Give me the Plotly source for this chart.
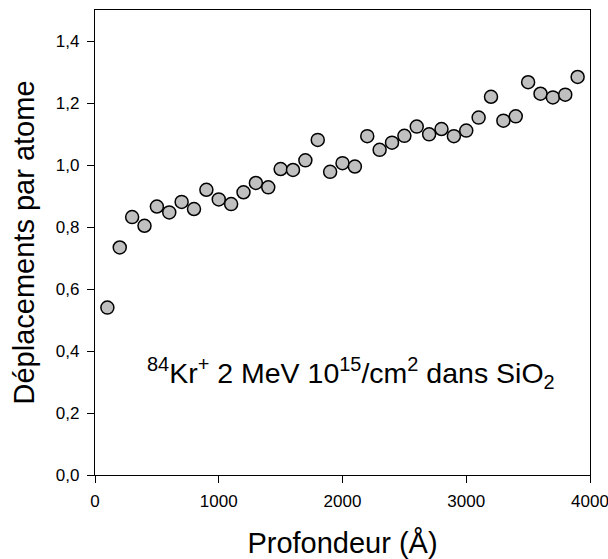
import plotly.graph_objects as go

depth = [100, 200, 300, 400, 500, 600, 700, 800, 900, 1000,
         1100, 1200, 1300, 1400, 1500, 1600, 1700, 1800, 1900, 2000,
         2100, 2200, 2300, 2400, 2500, 2600, 2700, 2800, 2900, 3000,
         3100, 3200, 3300, 3400, 3500, 3600, 3700, 3800, 3900]
dpa = [0.540, 0.734, 0.832, 0.804, 0.866, 0.847, 0.881, 0.858, 0.920, 0.889,
       0.874, 0.912, 0.942, 0.928, 0.987, 0.984, 1.015, 1.081, 0.978, 1.006,
       0.995, 1.093, 1.049, 1.072, 1.094, 1.124, 1.099, 1.116, 1.093, 1.111,
       1.153, 1.220, 1.143, 1.157, 1.267, 1.230, 1.218, 1.227, 1.284]

x_ticks = [0, 1000, 2000, 3000, 4000]
x_ticklabels = ["0", "1000", "2000", "3000", "4000"]
y_ticks = [0.0, 0.2, 0.4, 0.6, 0.8, 1.0, 1.2, 1.4]
y_ticklabels = ["0,0", "0,2", "0,4", "0,6", "0,8", "1,0", "1,2", "1,4"]

x_title = "Profondeur (Å)"
y_title = "Déplacements par atome"
label_text = "<sup>84</sup>Kr<sup>+</sup> 2 MeV 10<sup>15</sup>/cm<sup>2</sup> dans SiO<sub>2</sub>"

FONT = "Liberation Sans, Arial, sans-serif"

fig = go.Figure()
fig.add_trace(go.Scatter(
    x=depth, y=dpa, mode="markers",
    marker=dict(size=13, color="#c0c0c0", line=dict(color="black", width=1.5)),
    showlegend=False,
))

fig.add_annotation(
    x=2070, y=0.33, xref="x", yref="y",
    text=label_text, showarrow=False,
    font=dict(family=FONT, size=28.5, color="black"),
    xanchor="center", yanchor="middle",
)

axis_common = dict(
    showgrid=False, zeroline=False,
    showline=True, linecolor="black", linewidth=1.3, mirror=True,
    ticks="outside", ticklen=7, tickwidth=1.3, tickcolor="black",
    tickfont=dict(family=FONT, size=17, color="black"),
    ticklabeloverflow="allow",
)

fig.update_xaxes(
    range=[0, 4000], tickmode="array", tickvals=x_ticks, ticktext=x_ticklabels,
    title=dict(text=x_title, font=dict(family=FONT, size=29, color="black"), standoff=24),
    ticklabelstandoff=3,
    **axis_common,
)
fig.update_yaxes(
    range=[0, 1.5], tickmode="array", tickvals=y_ticks, ticktext=y_ticklabels,
    title=dict(text=y_title, font=dict(family=FONT, size=29, color="black"), standoff=12),
    ticklabelstandoff=4,
    **axis_common,
)

fig.update_layout(
    width=608, height=559,
    margin=dict(l=95, r=18, t=10, b=84, autoexpand=False),
    plot_bgcolor="white", paper_bgcolor="white",
    font=dict(family=FONT, color="black"),
)

fig.write_html("out.html", config={"displayModeBar": False},
               post_script="document.body.style.margin='0px';")
